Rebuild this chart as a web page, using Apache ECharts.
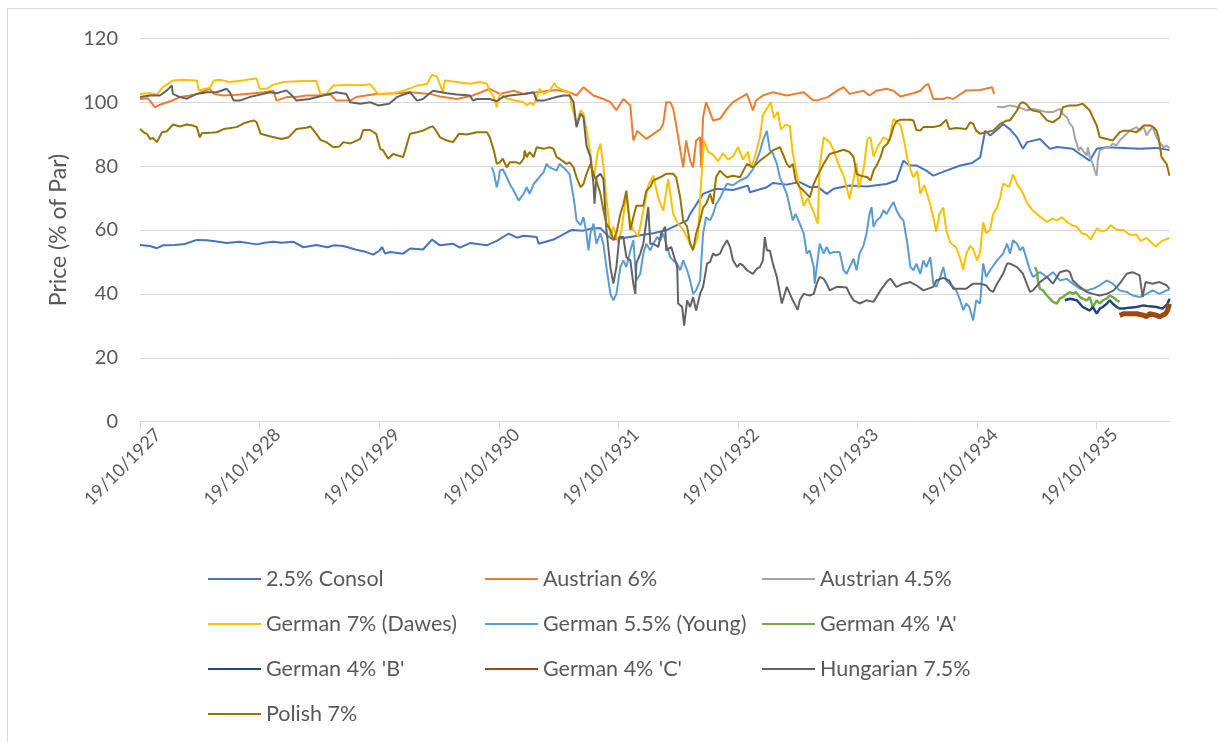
<!DOCTYPE html>
<html>
<head>
<meta charset="utf-8">
<title>Bond prices 1927-1936</title>
<script src="https://cdn.jsdelivr.net/npm/echarts@6.0.0/dist/echarts.min.js"></script>
<style>
  html, body { margin: 0; padding: 0; background: #fff; }
  #chart { width: 1217px; height: 742px; }
</style>
</head>
<body>
<div id="chart"></div>
<script>
// x = months elapsed since 19/10/1927, y = price in % of par
const tickMonths = [0, 12, 24, 36, 48, 60, 72, 84, 96];
const tickLabels = ['19/10/1927', '19/10/1928', '19/10/1929', '19/10/1930', '19/10/1931',
  '19/10/1932', '19/10/1933', '19/10/1934', '19/10/1935'];
const lastMonth = 103.35;
// rotated labels sit a little to the right of their tick, as Excel draws them
const labelShift = 1.8;

const consol = [[0,55.3],[1,55],[1.7,54.3],[2.3,55.2],[3.5,55.3],[4.5,55.6],[5.7,56.9],[6.7,56.8],[7.5,56.5],[8.7,55.9],[10,56.3],[11.7,55.5],[12.5,56],[13.4,56.3],[14.2,56],[15.4,56.3],[16.4,54.6],[17.7,55.3],[18.8,54.6],[19.5,55.2],[20.4,55],[21.7,53.8],[22.5,53.3],[23.4,52.3],[24,53.5],[24.3,54.6],[24.6,52.6],[25.1,53.1],[26.4,52.6],[27.1,54.2],[28.4,53.9],[29.3,57],[30.1,55.2],[31.4,55.7],[32.1,54.5],[33.1,55.9],[34.8,55.2],[35.8,56.6],[37,58.9],[37.8,57.6],[38.5,58.2],[39.8,57.8],[40,55.7],[41.5,57],[42.8,59.2],[43.3,60],[44.5,59.8],[45.2,60.4],[46.2,60.6],[47,58],[47.5,57],[48.5,57.5],[49.5,58],[50.5,58.5],[51.5,59],[52.8,59.9],[53.5,61],[54.9,63],[55.2,65],[56.5,71.3],[57.8,72.9],[59.5,72.5],[61,73.9],[61.2,71.8],[62.9,73.4],[63.5,74.7],[64.9,74.2],[66.2,75],[67.2,73.4],[68,73.5],[68.9,71.3],[69.6,72.9],[71.2,73.9],[72.9,73.6],[74.9,74.4],[75.9,75.5],[76.6,81.7],[77.2,80.2],[77.9,80.2],[78.9,78.6],[79.6,77],[80.9,78.6],[82.3,80.2],[83.5,81],[84.3,82.7],[84.8,91.1],[85.3,89.6],[86.3,92.2],[86.6,93.2],[87.3,91.5],[88,89],[88.6,85.4],[89,87.5],[90.3,88.5],[91.3,85.4],[92,86],[93.6,85.4],[94.3,83.8],[95.3,81.7],[96,85.4],[97,85.9],[98.7,85.7],[100.3,85.4],[102,85.7],[103.3,85]];

const austrian6 = [[0,101],[0.8,101.2],[1.5,98.4],[2,99.2],[3.3,100.6],[4,101.6],[5,102.1],[5.7,102.6],[7,104.2],[7.4,102.6],[8.4,102.1],[9.7,102.3],[10.7,102.6],[12.4,103.1],[13.4,103.6],[13.7,100.5],[14.7,101.6],[15.7,101.6],[16.7,102.1],[17.7,102.1],[19.1,102.4],[19.7,100.5],[21.1,100.5],[21.7,101.6],[22.7,102.1],[23.7,102.6],[25.8,102.8],[27.1,103.1],[29.1,102.6],[30.1,101.8],[31.8,101],[33.4,102.1],[35.1,104.2],[36.1,102.6],[37.5,103.6],[38.5,102.6],[39.8,103.1],[41.8,103.8],[43.1,103.1],[43.8,102.1],[44.5,104.7],[45.5,102.1],[46.5,101],[47.2,100],[47.8,97.5],[48.5,101],[49.2,99],[49.5,88],[49.9,91],[50.8,88.5],[51.5,90],[52.2,91.5],[52.5,93.2],[52.8,100],[53.2,100],[53.5,98],[53.8,92.8],[54.5,79.6],[54.8,88],[55.2,81.7],[55.5,79.6],[55.8,88],[56.2,89],[56.3,79.6],[56.5,95.3],[56.8,100],[57.5,94.3],[58.2,94.8],[58.9,97.9],[59.5,100],[60.9,102.6],[61.5,97.4],[61.8,100.5],[62.5,102.1],[63.5,103.1],[64.9,102.1],[66.6,103.1],[67.5,100.7],[67.9,100.5],[69,101.6],[70,103.7],[70.6,104.7],[71.2,102.6],[72.6,103.6],[73.2,102.1],[73.4,101.6],[73.9,103.6],[74.9,104.2],[75.6,103.6],[76.3,101.8],[77.6,102.8],[78.3,103.6],[78.8,105.2],[79.1,105.7],[79.6,101],[80.6,101],[81,101.5],[81.6,101],[82.9,103.7],[84.3,103.8],[85.5,104.7],[85.7,102.6]];

const austrian45 = [[86,98.6],[86.6,98.4],[87.3,99],[88,98.6],[88.6,97.9],[89,97.4],[89.6,97.9],[90.3,97.4],[91,96.9],[91.6,96.9],[92.3,97.9],[92.6,96.3],[93,95.3],[93.3,93.2],[93.6,92.2],[93.8,89],[94,87],[94.2,84.9],[94.4,85.9],[94.6,84.9],[95,83.3],[95.1,85.9],[95.3,82.8],[95.6,80.7],[95.8,78.6],[96,77],[96.1,81.7],[96.3,84.9],[96.6,85.4],[97,85.9],[97.3,85.9],[97.6,87],[98,86.5],[98.3,88],[99,90.1],[99.3,91.1],[100,92.2],[100.3,91.1],[100.7,92.2],[101,89.6],[101.3,91.1],[101.6,92.2],[102,89],[102.4,87],[102.7,85.9],[103,86.4],[103.3,85.7]];

const dawes = [[0,102.6],[1,102.8],[1.7,102.4],[2.3,104.7],[3.3,106.8],[4.3,107],[5.7,106.8],[5.9,103.7],[7,104.5],[7.4,106.8],[8,107],[9,106.3],[10.3,106.8],[11.7,107.5],[12,104.2],[12.7,104.2],[13.4,105.5],[14.4,106.3],[16.4,106.6],[17.7,106.6],[18.1,102.6],[18.7,102.6],[19.4,105.2],[20.7,105.4],[22.4,105.4],[23.1,105.6],[23.9,102.6],[24.7,102.6],[25.1,102.6],[26.4,103.5],[27.8,105.2],[28.8,105.7],[29.3,108.6],[29.8,108],[30.4,103.1],[30.6,106.8],[31.8,106.3],[33.1,105.8],[34.1,106.3],[34.8,105.8],[35.1,103.5],[35.5,101.6],[35.8,98.4],[36.1,102.6],[36.8,101.2],[37.5,100.6],[38.5,100],[38.8,99],[39.2,100],[39.5,99],[39.8,101.5],[40.1,104.2],[40.5,102.6],[41.1,103.6],[41.6,106],[41.8,104.8],[42.5,103.7],[43.1,103.1],[43.3,99],[43.5,96.9],[43.8,93.2],[44.2,97.5],[44.5,96.4],[44.8,91.5],[45.2,83.8],[45.5,75.5],[45.9,84],[46.2,87],[46.5,80],[46.8,70],[47.2,58],[47.5,61],[48,56],[48.3,60],[48.8,71],[49.2,62],[49.5,60],[50,58],[50.5,66],[51,74],[51.5,77],[52,70],[52.5,66],[53,76],[53.5,65],[54,62],[54.5,60],[55,57],[55.5,54],[56,58],[56.3,75],[56.6,88],[57,84.5],[57.5,83.5],[58,81.5],[58.5,84],[59,82],[59.5,83],[60,86],[60.5,82],[61,84.5],[61.3,79.5],[61.7,83],[62.2,89],[62.5,96],[63,98.5],[63.3,100],[63.6,95],[64,97],[64.3,91.5],[64.8,93],[65.2,92.5],[65.5,84],[65.8,79],[66.2,73],[66.6,67.6],[67,70],[67.6,65.5],[68,62],[68.2,80],[68.6,89],[69.2,87.5],[69.6,85],[70.2,79.7],[70.6,77],[71.2,69.7],[71.6,76],[71.9,81],[72.1,73],[72.6,79],[73,88.5],[73.3,89],[73.6,83],[74,86],[74.6,89],[75.2,88],[75.6,94.8],[76,93.5],[76.3,93],[76.6,89],[77,82.4],[77.3,79],[77.6,76.5],[78,78.5],[78.3,71.3],[78.7,74],[79,71],[79.3,68],[79.6,64],[79.9,59.5],[80.2,65],[80.6,67],[80.9,60],[81.3,56],[81.9,54.5],[82.3,51],[82.6,47.5],[82.9,52.5],[83.3,55],[83.6,54],[84,50.5],[84.3,53],[84.6,62.5],[84.9,59],[85.3,60],[85.6,65],[86,67],[86.3,70],[86.6,74.5],[87.2,73.5],[87.6,77.5],[88,74.5],[88.6,71.5],[89,68.5],[89.6,66],[90.2,64.5],[91,62.5],[91.5,63.5],[92,63],[92.5,64],[93,62.5],[93.5,61.5],[94,61],[94.5,59],[95,58.5],[95.4,57],[96,60.5],[96.5,59.5],[97,60],[97.4,61.5],[98,60],[98.7,60],[99.3,58.5],[100,58.5],[100.4,56.5],[101,57.5],[101.5,56],[101.9,54.8],[102.5,56.5],[103.3,57.5]];

const young = [[35.3,79.6],[35.5,78],[35.8,73.4],[36,76],[36.1,78.6],[36.4,79],[36.8,76.5],[37.1,74.4],[37.5,72.3],[38,69.2],[38.3,70.5],[38.5,71.3],[38.8,73.4],[39.1,71.3],[39.5,74.4],[39.8,75.5],[40.5,78.1],[40.8,80.7],[41.1,79.6],[41.8,78.6],[42.1,80.7],[42.8,78.6],[43.1,77.5],[43.5,70.2],[43.6,68.2],[43.8,63],[44.2,61.5],[44.5,64],[44.8,58.9],[45,53.6],[45.2,59],[45.5,62],[45.8,55.7],[46.2,59],[46.5,55.5],[46.8,48.4],[47.2,40],[47.5,38],[47.8,40],[48.2,48.4],[48.5,50.5],[48.8,48.4],[49.2,53.6],[49.5,56.8],[49.8,44.2],[50.2,46.3],[50.5,52.6],[50.8,55.7],[51.2,53.6],[51.5,55.7],[51.9,57.8],[52.2,56.8],[52.5,58.9],[52.8,55.7],[53.2,51.5],[53.5,50.5],[53.9,49.5],[54.2,47.4],[54.5,50.5],[54.9,47.4],[55.2,44.2],[55.5,40],[55.8,41.1],[56.2,44.2],[56.5,58.9],[56.8,64],[57.2,63],[57.5,65],[57.8,68],[58.2,70],[58.5,72],[58.9,74.5],[59.5,74],[60.2,75.5],[60.9,76.5],[61.5,79],[61.9,82],[62.2,84.5],[62.5,88],[62.9,91],[63.2,85],[63.5,84],[63.9,80.7],[64.2,76.5],[64.9,71.3],[65.2,67.1],[65.5,63],[65.8,65],[66.2,62],[66.6,58.9],[66.9,52.6],[67.2,53.6],[67.6,48.4],[67.7,43.2],[67.9,48.4],[68.2,55.7],[68.6,52.6],[68.9,54.7],[69.2,52.6],[69.6,53.1],[70.2,53.1],[70.6,47.4],[70.9,46.3],[71.2,48.4],[71.6,51],[71.9,47.4],[72.2,52.6],[72.6,55.2],[72.9,58.9],[73.2,65],[73.4,67.2],[73.6,61],[73.9,63],[74.3,64],[74.6,66.2],[74.9,65],[75.3,67.2],[75.6,68.8],[75.9,66.2],[76.3,64],[76.6,63],[77,55.7],[77.3,48.4],[77.6,47.4],[77.9,49.5],[78.3,46.3],[78.6,50.5],[78.9,48.4],[79.3,51.5],[79.6,43.2],[79.9,42.2],[80.3,45.3],[80.6,48.4],[80.9,44.2],[81.6,42.2],[81.9,41.1],[82.3,38],[82.6,34.9],[82.9,37],[83.2,36],[83.6,31.7],[83.9,38],[84.3,37],[84.6,49.5],[84.9,45.3],[85.3,47.4],[86,50.5],[86.6,52.6],[87,55.7],[87.3,52.6],[87.6,56.8],[88,55.7],[88.3,53.6],[88.6,54.7],[89,50.5],[89.3,47.4],[89.6,45.3],[90.3,46.8],[91,45.3],[91.6,46.8],[92.3,44.2],[93,44.7],[93.6,43.2],[94.3,41.6],[95,41.1],[95.6,41.6],[96.3,42.7],[97,44.2],[97.6,43.2],[98.3,41.1],[99,40.6],[99.6,39.5],[100.3,39],[101,40],[101.6,41.1],[102.3,40],[103,41.1],[103.3,41.3]];

const german4A = [[89.8,48.4],[90,47],[90.1,44.2],[90.3,41.6],[90.6,41.1],[91,39.5],[91.3,38.5],[91.6,37.5],[92,37],[92.3,38.5],[92.6,39],[93,40],[93.3,40.6],[93.6,40],[93.9,40.6],[94.3,39],[94.6,38.5],[95,38],[95.3,39],[95.6,35.9],[96,38],[96.3,37],[96.6,38],[97,38.5],[97.3,39.5],[97.6,39],[98,38],[98.3,37.5]];

const german4B = [[92.8,38],[93.3,38.5],[94,38],[94.6,35.9],[95.3,34.8],[95.6,35.9],[96,33.8],[96.3,35.4],[96.6,35.9],[97,36.9],[97.3,38],[97.6,36.9],[98,35.9],[98.3,35.4],[98.7,35.4],[99.3,35.7],[100,35.9],[100.7,36.4],[101.3,36.1],[102,35.9],[102.6,35.4],[103.1,36.9],[103.3,38.5]];

const german4C = [[98.3,33.3],[98.7,33.8],[99.3,33.8],[100,33.8],[100.7,33.3],[101,32.8],[101.3,33.8],[102,33.3],[102.3,32.8],[102.6,33.3],[102.9,33.8],[103.1,34.8],[103.3,36.9]];

const hungarian = [[0,101.6],[1,102.1],[2,102.1],[2.7,103.7],[3.2,105.2],[3.3,102.6],[4,101.6],[4.7,101.1],[5.7,102.6],[6.7,103.1],[7.7,103.1],[8.7,104.2],[9,103.1],[9.4,100.5],[10,100.5],[11,101.6],[12.4,102.6],[13,103.1],[13.7,102.8],[14.7,103.7],[15.4,101.6],[15.7,100.5],[17,101],[18.4,102.1],[19.7,103.1],[20.7,102.6],[21.1,100],[22.1,99.5],[23.1,100],[23.9,99],[25,99.5],[25.8,101.6],[26.1,102],[27.1,103.1],[27.8,100.5],[28.4,101],[28.8,102.1],[29.4,103.6],[30.8,102.8],[31.8,102.4],[33.1,102.1],[33.4,100.5],[33.8,101],[35.1,101],[35.8,100.3],[36.4,101.6],[37.1,102.1],[38.5,102.6],[39.5,103.1],[39.8,100.5],[40.5,100.5],[41.8,101.6],[42.5,102.1],[43.1,102.1],[43.5,100],[43.8,92.2],[44.2,96.4],[44.5,95.3],[44.8,86.4],[45.2,82.8],[45.5,74.4],[45.6,68.2],[45.8,76.5],[46.2,77.6],[46.5,76],[46.8,60],[47.2,48.4],[47.5,43.2],[47.8,48.4],[48.1,57.8],[48.5,57.8],[48.8,51.5],[49.2,50.5],[49.5,43.2],[49.7,40],[49.8,49.5],[50.2,52.6],[50.5,55.7],[51,67.2],[51.2,55.7],[51.5,55.7],[52,54.7],[52.3,58.9],[52.7,61],[52.8,53.6],[53.3,54.7],[53.9,48.4],[54,37],[54.4,35.9],[54.6,30.1],[54.9,38],[55.2,35.9],[55.5,39],[55.8,34.8],[56.2,40],[56.5,42.2],[56.9,49.5],[57.2,50],[57.5,52.6],[57.8,52],[58.2,52.6],[58.5,54.7],[58.9,56.8],[59.2,54.7],[59.5,50.5],[59.9,48.4],[60.2,49.5],[60.5,48.9],[60.9,47.4],[61.5,46.3],[61.9,47.9],[62.2,48.4],[62.5,50.5],[62.7,57.8],[62.9,53.6],[63.2,53.6],[63.5,49.5],[63.9,45.3],[64.4,37],[64.9,42.2],[65.5,38],[66,35],[66.2,38],[66.6,40],[67.2,39.5],[67.6,40],[67.9,43.2],[68.2,45.3],[68.6,44.7],[68.9,43.2],[69.2,41.1],[69.9,42.2],[70.9,42],[71.2,40],[71.6,38],[72.2,37],[72.9,38],[73.6,37.5],[74.3,41.1],[74.9,43.7],[75.3,44.8],[75.9,42.2],[76.6,43.2],[77.3,43.7],[77.9,42.7],[78.6,41.1],[79.6,42.2],[79.9,44.2],[80.6,45],[81.2,44.2],[81.6,41.6],[82.9,41.6],[83.6,43.2],[84.3,43.2],[84.9,42.7],[85.3,41.1],[85.6,40.6],[86,43.2],[86.6,46.3],[87,49.5],[87.3,49.5],[88,48.4],[88.6,46.3],[89.3,40.6],[89.6,41.1],[90.3,43.7],[91,45.3],[91.6,43.2],[92.3,46.8],[93,47.4],[93.3,46.8],[93.6,44.2],[94.3,42.2],[95,40.6],[95.6,40],[96.3,39.5],[97,40],[97.7,41.1],[98.3,43.2],[99,46.3],[99.6,46.8],[100.3,45.8],[100.6,39],[100.9,43.7],[101.6,43.2],[102.3,43.7],[103,42.7],[103.3,41.6]];

const polish = [[0,91.6],[0.4,90.5],[0.7,90.1],[1,88.5],[1.3,88.8],[1.7,87.5],[2.2,90.6],[2.7,90.9],[3.3,93],[4,92.4],[4.7,93],[5.3,92.7],[5.7,92.2],[6,89],[6.2,90.3],[7,90.4],[7.7,90.6],[8.4,91.6],[9.7,92.2],[10.4,93.4],[11.4,94.3],[11.7,93.8],[12.1,90.1],[13.2,89.2],[14.2,88.5],[14.9,89],[15.7,91.6],[16.7,92],[17.1,92.4],[17.7,90.1],[18.1,88.2],[18.7,87.5],[19.4,85.9],[20,86.1],[20.4,87.5],[21.1,87.1],[21.4,87.5],[22.1,88.5],[22.4,91.3],[23.1,91.3],[23.7,90.1],[24.1,85.4],[24.4,84.9],[24.9,82.3],[25.4,83.8],[26.4,82.8],[26.8,87],[27.1,90.1],[27.8,90.6],[28.4,91.1],[29.1,92.2],[29.4,92.4],[29.8,90.6],[30.1,89],[30.8,88],[31.4,87.5],[32,90.1],[32.8,89.9],[33.8,90.6],[34.8,90.6],[35.1,89],[35.5,84.9],[35.8,80.7],[36.1,81.2],[36.4,82.3],[36.8,79.6],[37.1,81.2],[37.8,81.2],[38.1,80.7],[38.5,82.3],[38.6,84.9],[38.8,82.8],[39.1,84.4],[39.5,82.8],[39.8,85.9],[40.5,85.4],[41.1,85.9],[41.5,85.4],[41.8,82.8],[42.1,82.3],[42.8,80.7],[43.1,81.2],[43.5,79.6],[43.8,76.5],[44.2,73.4],[44.5,74.4],[44.8,77.6],[45.2,80.7],[45.5,77.6],[45.8,75.5],[46.2,71.3],[46.5,66.1],[46.8,62],[47.2,60],[47.5,56.8],[47.8,59],[48.2,65],[48.5,68],[48.8,72.3],[49.2,60],[49.5,64],[49.8,67.6],[50.5,67.6],[50.8,72.3],[51.2,73.5],[51.5,75.5],[52.2,76.5],[52.8,77.6],[53.5,77.6],[53.8,76.5],[54.2,70.2],[54.5,63],[54.9,61],[55.2,55.7],[55.5,53.6],[55.8,58.9],[56.2,63],[56.5,67],[56.8,68.2],[57.2,71.3],[57.5,68.2],[57.8,76.5],[58.2,78.6],[58.5,77.6],[58.9,76.5],[59.5,77],[60.2,76.5],[60.9,80.7],[61.5,79.6],[62.2,81.7],[62.9,83.3],[63.5,84.9],[64.2,85.9],[64.5,83.8],[64.9,80.7],[65.2,79.6],[65.5,80.7],[65.8,75.5],[66.2,73.4],[66.5,72.5],[66.9,71.3],[67.2,70.2],[67.6,74.4],[67.9,76.5],[68.6,80.7],[69.2,83.8],[69.9,84.4],[70.6,85.1],[71.2,84.4],[71.6,82.8],[71.9,77.6],[72.3,77],[73,76.5],[73.3,75.5],[73.6,78.6],[74,80.7],[74.3,82.8],[74.6,85.9],[75,87],[75.3,89],[75.6,92.2],[75.9,94],[76.3,94.5],[77.3,94.5],[77.6,94.3],[77.9,91.3],[78.3,91.1],[78.6,92.2],[79.6,92.2],[80.3,92.7],[80.9,94.5],[81.2,91.6],[81.9,91.9],[82.9,91.6],[83.3,93.7],[83.6,93.2],[83.9,91.1],[84.3,90.1],[84.9,90.6],[85.6,91.1],[86.3,93.2],[87,94.3],[87.3,94.3],[88,97.4],[88.3,99.5],[88.6,100],[89,99.2],[89.3,97.9],[89.6,97.4],[90.3,96.9],[91,94.3],[91.6,93.7],[92.3,95.3],[92.6,98.4],[93.3,99],[94,99],[94.6,99.5],[95.3,97.4],[95.6,95.3],[96,92.7],[96.3,89],[97,88.5],[97.6,88],[98.3,90.6],[98.7,91.1],[99.3,91.1],[100,90.6],[100.7,92.7],[101.4,92.7],[101.7,92.2],[102,91.1],[102.2,89],[102.4,84.9],[102.5,82.8],[102.7,82.8],[103,80.7],[103.3,77]];

const seriesNames = ['2.5% Consol', 'Austrian 6%', 'Austrian 4.5%', 'German 7% (Dawes)', 'German 5.5% (Young)',
  "German 4% 'A'", "German 4% 'B'", "German 4% 'C'", 'Hungarian 7.5%', 'Polish 7%'];
const seriesData = [consol, austrian6, austrian45, dawes, young, german4A, german4B, german4C, hungarian, polish];
const seriesColors = ['#4472C4', '#ED7D31', '#A5A5A5', '#FFC000', '#5B9BD5', '#70AD47', '#264478', '#9E480E', '#636363', '#997300'];
const seriesWidths = [2, 2, 2, 2, 2, 2.5, 2.5, 5, 2, 2];

// legend columns, read top to bottom
const legendCols = [
  ['2.5% Consol', 'German 7% (Dawes)', "German 4% 'B'", 'Polish 7%'],
  ['Austrian 6%', 'German 5.5% (Young)', "German 4% 'C'"],
  ['Austrian 4.5%', "German 4% 'A'", 'Hungarian 7.5%']
];
const legendLeft = [202, 479, 756];

const textColor = '#595959';
const gridColor = '#D9D9D9';
const font = 'Lato';

const chart = echarts.init(document.getElementById('chart'), null, { renderer: 'canvas' });

const option = {
  animation: false,
  backgroundColor: '#fff',
  textStyle: { fontFamily: font },
  graphic: [{
    type: 'rect',
    silent: true,
    shape: { x: 7.5, y: 8.5, width: 1215, height: 740 },
    style: { fill: 'none', stroke: gridColor, lineWidth: 1 }
  }],
  grid: { left: 140, right: 47, top: 38.3, bottom: 320.3, outerBoundsMode: 'none' },
  xAxis: {
    type: 'value',
    min: 0,
    max: lastMonth,
    splitLine: { show: false },
    axisLine: { show: true, lineStyle: { color: gridColor, width: 1 } },
    axisTick: { show: true, customValues: tickMonths, length: 8, lineStyle: { color: gridColor } },
    axisLabel: {
      customValues: tickMonths.map(m => m + labelShift),
      rotate: 45,
      margin: 10,
      color: textColor,
      fontSize: 18,
      fontFamily: font,
      formatter: v => tickLabels[Math.round((v - labelShift) / 12)] || ''
    }
  },
  yAxis: {
    type: 'value',
    min: 0,
    max: 120,
    interval: 20,
    name: 'Price (% of Par)',
    nameLocation: 'middle',
    nameRotate: 90,
    nameGap: 70,
    nameTextStyle: { color: textColor, fontSize: 23, fontFamily: font },
    axisLine: { show: false },
    axisTick: { show: false },
    axisLabel: { color: textColor, fontSize: 20, margin: 22, fontFamily: font },
    splitLine: { lineStyle: { color: gridColor, width: 1 } }
  },
  legend: legendCols.map((col, i) => ({
    data: col,
    orient: 'vertical',
    left: legendLeft[i],
    top: 562,
    itemWidth: 53,
    itemHeight: 14,
    itemGap: 21,
    selectedMode: false,
    itemStyle: { opacity: 0 },
    textStyle: { color: textColor, fontSize: 21.5, lineHeight: 24, fontFamily: font }
  })),
  series: seriesNames.map((name, i) => ({
    name: name,
    type: 'line',
    data: seriesData[i],
    symbol: 'none',
    color: seriesColors[i],
    lineStyle: { width: seriesWidths[i], color: seriesColors[i] }
  }))
};

chart.setOption(option);
window.addEventListener('resize', () => chart.resize());
</script>
</body>
</html>
